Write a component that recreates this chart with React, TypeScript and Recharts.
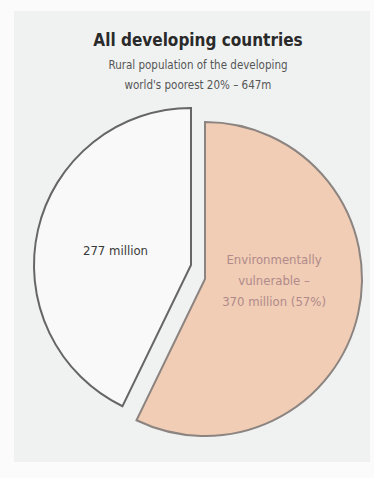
import React from 'react';
import { PieChart, Pie, Cell } from 'recharts';

// ---- data ----
const categories = ['Environmentally vulnerable', 'Other rural poor'];
const values = [370, 277];
const sliceLabels = [
  ['Environmentally', 'vulnerable –', '370 million (57%)'],
  ['277 million'],
];
const title = 'All developing countries';
const subtitle = ['Rural population of the developing', "world's poorest 20% – 647m"];

// ---- styles ----
const W = 374;
const H = 478;
const FONT = "'Liberation Sans Narrow', 'DejaVu Sans Condensed', 'Liberation Sans', Arial, sans-serif";
const fills = ['#f0cdb4', '#f9f9f9'];
const strokes = ['#8c8480', '#666666'];
const labelColors = ['#b08a8c', '#3a3a3a'];
const pieCenters = [
  { cx: 205, cy: 279 },
  { cx: 191, cy: 265 },
];
const R = 157;
const labelPlacement = [
  { rf: 0.44, angle: -1 },
  { rf: 0.49, angle: 169 },
];

const data = categories.map((name, i) => ({ name, value: values[i] }));

const RAD = Math.PI / 180;

function makeLabel(show: number) {
  return (props: any) => {
    const { cx, cy, index, outerRadius } = props;
    if (index !== show) return null;
    const p = labelPlacement[index];
    const x = cx + outerRadius * p.rf * Math.cos(p.angle * RAD);
    const y = cy - outerRadius * p.rf * Math.sin(p.angle * RAD);
    const lines = sliceLabels[index];
    const lh = 21;
    const y0 = y - ((lines.length - 1) * lh) / 2;
    return (
      <text
        x={x}
        y={y0}
        textAnchor="middle"
        dominantBaseline="central"
        fill={labelColors[index]}
        fontFamily={FONT}
        fontSize={13}
      >
        {lines.map((l, k) => (
          <tspan key={k} x={x} y={y0 + k * lh}>
            {l}
          </tspan>
        ))}
      </text>
    );
  };
}

export default function App() {
  return (
    <div style={{ position: 'absolute', left: 0, top: 0, width: W, height: H, background: '#fbfbfb', overflow: 'hidden' }}>
      <div style={{ position: 'absolute', left: 14, top: 11, width: 356, height: 451, background: '#f0f2f2' }} />
      <div
        style={{
          position: 'absolute',
          left: 0,
          top: 28,
          width: 396,
          textAlign: 'center',
          fontFamily: FONT,
          fontWeight: 'bold',
          fontSize: 17,
          color: '#2a2a2a',
          lineHeight: '24px',
        }}
      >
        {title}
      </div>
      {subtitle.map((s, i) => (
        <div
          key={i}
          style={{
            position: 'absolute',
            left: 0,
            top: 56 + i * 20,
            width: 396,
            textAlign: 'center',
            fontFamily: FONT,
            fontSize: 11.5,
            color: '#555',
            lineHeight: '18px',
          }}
        >
          {s}
        </div>
      ))}
      <div style={{ position: 'absolute', left: 0, top: 0 }}>
        <PieChart width={W} height={H} margin={{ top: 0, right: 0, bottom: 0, left: 0 }}>
          {pieCenters.map((c, pi) => (
            <Pie
              key={pi}
              data={data}
              dataKey="value"
              nameKey="name"
              cx={c.cx}
              cy={c.cy}
              outerRadius={R}
              innerRadius={0}
              startAngle={90}
              endAngle={-270}
              isAnimationActive={false}
              labelLine={false}
              label={makeLabel(pi)}
              strokeWidth={2}
            >
              {data.map((d, i) => (
                <Cell
                  key={d.name}
                  fill={i === pi ? fills[i] : 'none'}
                  stroke={i === pi ? strokes[i] : 'none'}
                />
              ))}
            </Pie>
          ))}
        </PieChart>
      </div>
    </div>
  );
}
